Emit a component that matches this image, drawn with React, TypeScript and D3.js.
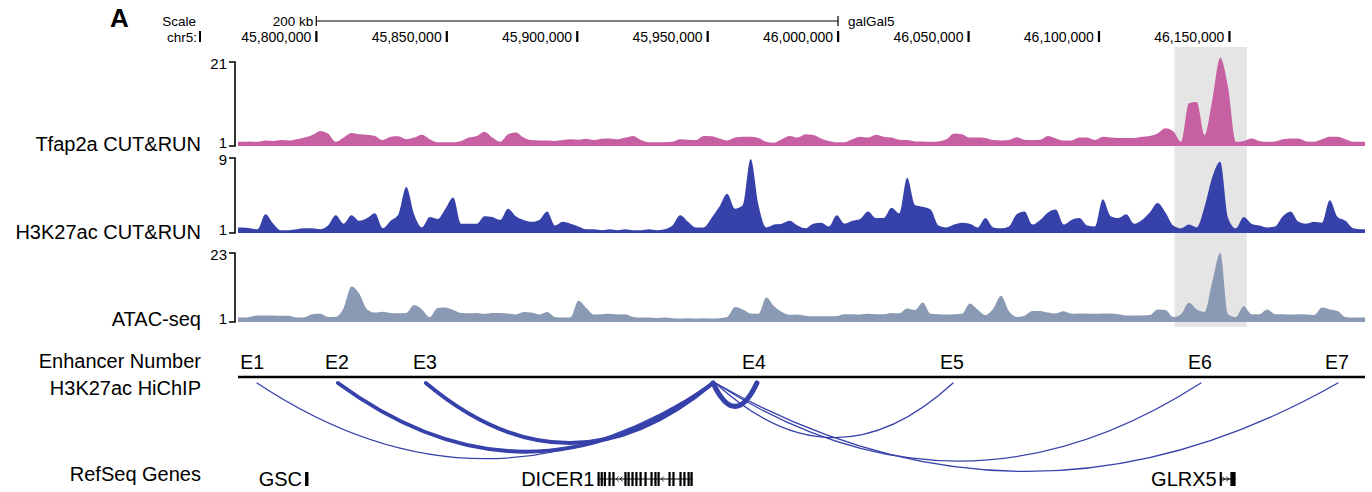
import React from "react";
import * as d3 from "d3";

// genome window shown (galGal5, chr5)
const CHROM_START = 45770000;
const CHROM_END = 46202000;
const BIN_SIZE = 3000;

const TICK_POSITIONS = [45800000, 45850000, 45900000, 45950000, 46000000, 46050000, 46100000, 46150000];
const SCALE_BAR = [45800000, 46000000];
const HIGHLIGHT = [46129000, 46156700];

const TRACK_NAMES = ["Tfap2a CUT&RUN", "H3K27ac CUT&RUN", "ATAC-seq"];
const TRACK_MAX = [21, 9, 23];

// signal per 3 kb bin
const TFAP2A = [
  2.0, 2.1, 2.0, 2.3, 2.2, 2.4, 2.3, 2.6, 3.0, 3.6,
  4.6, 4.0, 2.0, 3.0, 4.1, 3.8, 3.7, 3.4, 2.4, 3.2,
  3.3, 2.6, 3.0, 3.7, 2.6, 1.9, 1.9, 1.9, 2.2, 3.0,
  3.4, 4.4, 3.0, 2.0, 3.8, 4.2, 3.0, 2.4, 2.3, 2.3,
  2.2, 2.4, 2.6, 2.5, 2.7, 2.4, 2.7, 2.8, 2.6, 3.0,
  3.4, 2.4, 1.9, 1.9, 1.9, 2.0, 2.6, 2.5, 2.4, 3.4,
  3.3, 2.8, 2.3, 3.0, 3.2, 3.2, 2.9, 2.0, 1.8, 2.6,
  3.4, 3.0, 3.8, 3.6, 2.8, 2.2, 1.9, 1.9, 2.6, 3.2,
  3.0, 3.7, 3.2, 3.0, 2.5, 2.4, 2.1, 2.1, 2.0, 2.1,
  2.6, 4.0, 3.8, 3.0, 3.0, 2.9, 2.4, 2.3, 2.4, 3.1,
  2.5, 2.4, 2.5, 3.4, 2.8, 2.3, 2.3, 3.0, 3.0, 2.4,
  3.2, 3.0, 2.9, 2.9, 2.9, 3.2, 3.4, 4.0, 5.2, 4.5,
  2.0, 11.2, 11.5, 3.6, 12, 22, 15, 2.0, 2.2, 2.8,
  2.2, 2.0, 2.1, 2.6, 2.8, 2.8, 2.1, 2.0, 2.6, 3.2,
  3.2, 2.6, 2.0, 2.0,
];

const H3K27AC = [
  1.6, 1.5, 1.4, 3.0, 2.0, 1.3, 1.3, 1.4, 1.5, 1.5,
  1.4, 1.8, 2.9, 2.0, 2.9, 2.3, 2.6, 3.1, 1.5, 2.3,
  3.0, 5.9, 3.0, 1.6, 2.7, 2.5, 3.6, 4.8, 2.0, 2.0,
  2.0, 2.8, 2.7, 2.4, 3.6, 2.8, 2.4, 2.2, 2.4, 3.3,
  1.8, 2.2, 2.0, 1.7, 1.4, 1.4, 1.3, 1.4, 1.3, 1.4,
  1.3, 1.3, 1.4, 1.3, 1.4, 1.8, 2.9, 2.2, 1.6, 1.6,
  2.6, 3.8, 5.2, 3.6, 4.0, 8.9, 4.0, 1.6, 1.9, 2.0,
  2.3, 1.8, 1.5, 2.0, 2.1, 1.7, 2.9, 2.0, 2.3, 2.5,
  3.3, 2.6, 2.6, 3.7, 3.1, 6.9, 4.0, 3.8, 3.5, 1.8,
  1.6, 1.9, 2.1, 2.0, 1.6, 2.6, 1.6, 1.5, 1.7, 3.0,
  3.3, 1.9, 2.4, 3.2, 3.5, 1.9, 2.4, 2.6, 1.8, 1.7,
  4.6, 2.8, 2.6, 3.0, 2.0, 2.4, 3.2, 4.2, 3.2, 1.8,
  1.5, 1.9, 1.6, 3.8, 7.0, 8.6, 2.6, 1.5, 2.7, 2.0,
  1.8, 1.6, 1.7, 2.8, 3.3, 2.2, 2.0, 2.2, 2.1, 4.5,
  2.7, 2.3, 1.5, 1.4,
];

const ATAC = [
  2.4, 2.6, 3.1, 3.1, 3.1, 3.0, 3.0, 2.4, 2.5, 3.5,
  3.6, 2.6, 2.7, 5.5, 12.3, 10, 5, 4.0, 4.3, 3.9,
  3.8, 3.9, 6.4, 5, 2.6, 5.5, 5.6, 4.8, 3.9, 3.8,
  3.9, 3.6, 3.9, 3.9, 3.7, 3.4, 4.2, 4.0, 3.4, 4.2,
  2.6, 2.4, 2.5, 7.8, 5.5, 3.4, 3.5, 3.6, 3.4, 3.5,
  2.6, 2.4, 2.4, 2.3, 2.4, 2.2, 2.1, 2.2, 2.1, 2.2,
  2.1, 2.2, 2.6, 5.8, 5.0, 3.7, 3.6, 8.8, 6, 4.2,
  3.3, 3.4, 3.0, 2.8, 2.8, 2.8, 2.9, 3.5, 3.5, 3.4,
  3.6, 3.5, 3.5, 3.9, 3.8, 5.3, 4.8, 7.2, 3.6, 3.5,
  3.4, 3.5, 3.6, 6.9, 5, 3.2, 5.3, 9.4, 4.5, 2.6,
  3.0, 4.5, 4.5, 4.0, 3.7, 4.4, 3.6, 3.7, 3.7, 3.6,
  3.7, 3.7, 3.5, 3.1, 3.1, 3.1, 3.2, 5.0, 4.8, 2.6,
  3.5, 7.1, 5, 4.2, 14, 23, 3.5, 2.6, 6.0, 3.5,
  3.5, 5.0, 3.5, 3.5, 3.4, 3.5, 3.4, 3.2, 5.6, 5.0,
  4.5, 2.6, 2.4, 2.4,
];

const ENHANCER_LABELS = ["E1", "E2", "E3", "E4", "E5", "E6", "E7"];
const ENHANCER_POS = [45775400, 45807900, 45841700, 45967800, 46043700, 46138700, 46191200];

// HiChIP loops: anchors and read support
const LOOP_FROM = [45777300, 45808300, 45842000, 45952100, 45953000, 45953000, 45953000];
const LOOP_TO = [45952100, 45952100, 45952100, 45968900, 46044100, 46139100, 46191600];
const LOOP_COUNT = [1, 3, 3, 4, 1, 1, 1];

const GENE_NAMES = ["GSC", "DICER1", "GLRX5"];
const GENE_STRAND = ["+", "-", "+"];
// exons in kb
const GENE_EXONS = [
  [[45795.7, 45797.0]],
  [
    [45907.8, 45908.6], [45909.0, 45909.8], [45910.2, 45911.0], [45912.0, 45912.8],
    [45913.5, 45914.3], [45918.1, 45918.9], [45919.3, 45920.1], [45920.8, 45921.6],
    [45922.3, 45923.1], [45923.9, 45924.7], [45925.8, 45926.6], [45928.1, 45928.9],
    [45929.6, 45930.4], [45930.8, 45931.6], [45935.0, 45935.8], [45936.5, 45937.3],
    [45939.2, 45940.0], [45940.7, 45941.5], [45942.3, 45943.1], [45943.4, 45944.3],
  ],
  [[46146.3, 46146.6], [46150.4, 46152.4]],
];

const FONT = "'Liberation Sans', Arial, Helvetica, sans-serif";
const COLORS = ["#c760a3", "#3741aa", "#8a9ab4"];
const TRACK_TOP = [62, 158, 253];
const TRACK_BOTTOM = [146, 233, 322];
const LABEL_Y = [151, 239, 326];

export default function App() {
  const x = d3.scaleLinear().domain([CHROM_START, CHROM_END]).range([238, 1365]);
  const fmt = d3.format(",");
  const signals = [TFAP2A, H3K27AC, ATAC];

  const depth = d3.scaleSqrt().domain([0, CHROM_END - CHROM_START]).range([0, 119]);
  const loopWidth = d3.scaleLinear().domain([1, 4]).range([1.3, 5.2]);
  const arcY = 383;

  const geneY = 479;

  return (
    <svg
      width={1372}
      height={492}
      style={{ position: "absolute", left: 0, top: 0, background: "#fff" }}
      fontFamily={FONT}
    >
      <rect width={1372} height={492} fill="#fff" />
      {/* highlight */}
      <rect
        x={x(HIGHLIGHT[0])}
        y={47}
        width={x(HIGHLIGHT[1]) - x(HIGHLIGHT[0])}
        height={280}
        fill="#e5e5e5"
      />

      <text x={110} y={27} fontSize={26} fontWeight="bold">A</text>

      {/* scale bar */}
      <text x={196} y={26} fontSize={13.5} textAnchor="end">Scale</text>
      <text x={x(SCALE_BAR[0]) - 3} y={26} fontSize={13.5} textAnchor="end">200 kb</text>
      <line x1={x(SCALE_BAR[0])} x2={x(SCALE_BAR[1])} y1={21} y2={21} stroke="#000" strokeWidth={1.2} />
      <line x1={x(SCALE_BAR[0])} x2={x(SCALE_BAR[0])} y1={16} y2={26} stroke="#000" strokeWidth={1.2} />
      <line x1={x(SCALE_BAR[1])} x2={x(SCALE_BAR[1])} y1={16} y2={26} stroke="#000" strokeWidth={1.2} />
      <text x={x(SCALE_BAR[1]) + 10} y={26} fontSize={13.5}>galGal5</text>

      {/* position ruler */}
      <text x={197} y={42} fontSize={13.5} textAnchor="end">chr5:</text>
      <rect x={199} y={31} width={2} height={11} fill="#000" />
      {TICK_POSITIONS.map((p) => (
        <g key={p}>
          <rect x={x(p) - 1} y={31} width={2.2} height={11} fill="#000" />
          <text x={x(p) - 5} y={42} fontSize={14} textAnchor="end">{fmt(p)}</text>
        </g>
      ))}

      {/* signal tracks */}
      {signals.map((vals, t) => {
        const top = TRACK_TOP[t];
        const bottom = TRACK_BOTTOM[t];
        const y = d3.scaleLinear().domain([1, TRACK_MAX[t]]).range([bottom, top]);
        const pts: [number, number][] = [
          [CHROM_START, vals[0]],
          ...vals.map((v, i) => [CHROM_START + (i + 0.5) * BIN_SIZE, v] as [number, number]),
          [CHROM_END, vals[vals.length - 1]],
        ];
        const area = d3
          .area<[number, number]>()
          .x((d) => x(d[0]))
          .y0(bottom)
          .y1((d) => y(d[1]))
          .curve(d3.curveMonotoneX);
        return (
          <g key={t}>
            <path d={area(pts) || ""} fill={COLORS[t]} />
            <path
              d={`M229,${top}H235V${bottom}H229`}
              fill="none"
              stroke="#000"
              strokeWidth={1.6}
            />
            <text x={227} y={top + 7} fontSize={15} textAnchor="end">
              {TRACK_MAX[t]}
            </text>
            <text x={227} y={bottom + 2} fontSize={15} textAnchor="end">
              1
            </text>
            <text x={201} y={LABEL_Y[t]} fontSize={20} textAnchor="end">
              {TRACK_NAMES[t]}
            </text>
          </g>
        );
      })}

      {/* enhancers and HiChIP loops */}
      <text x={201} y={368} fontSize={20} textAnchor="end">Enhancer Number</text>
      <text x={201} y={395} fontSize={20} textAnchor="end">H3K27ac HiChIP</text>
      {ENHANCER_LABELS.map((l, i) => (
        <text key={l} x={x(ENHANCER_POS[i])} y={369} fontSize={19.5} textAnchor="middle">
          {l}
        </text>
      ))}
      <line x1={238} x2={1365} y1={377} y2={377} stroke="#000" strokeWidth={2.6} />
      {LOOP_FROM.map((f, i) => {
        const x1 = x(f);
        const x2 = x(LOOP_TO[i]);
        const d = depth(LOOP_TO[i] - f);
        return (
          <path
            key={i}
            d={`M${x1},${arcY}Q${(x1 + x2) / 2},${arcY + 2 * d} ${x2},${arcY}`}
            fill="none"
            stroke="#3741aa"
            strokeWidth={loopWidth(LOOP_COUNT[i])}
            strokeLinecap="round"
          />
        );
      })}

      {/* genes */}
      <text x={201} y={481} fontSize={20} textAnchor="end">RefSeq Genes</text>
      {GENE_NAMES.map((g, gi) => {
        const exons = GENE_EXONS[gi];
        const gs = x(exons[0][0] * 1000);
        const ge = x(exons[exons.length - 1][1] * 1000);
        const chevrons: number[] = [];
        for (let k = 0; k < exons.length - 1; k++) {
          const a = x(exons[k][1] * 1000) + 2;
          const b = x(exons[k + 1][0] * 1000) - 2;
          for (let c = a + 1; c < b; c += 4) chevrons.push(c);
        }
        const dir = GENE_STRAND[gi] === "+" ? 1 : -1;
        return (
          <g key={g}>
            <text x={gs - 3} y={486} fontSize={20} textAnchor="end">{g}</text>
            <line x1={gs} x2={ge} y1={geneY} y2={geneY} stroke="#000" strokeWidth={1.2} />
            {chevrons.map((c, k) => (
              <path
                key={k}
                d={`M${c - 1.2 * dir},${geneY - 2.5}L${c + 1.2 * dir},${geneY}L${c - 1.2 * dir},${geneY + 2.5}`}
                fill="none"
                stroke="#000"
                strokeWidth={0.8}
              />
            ))}
            {exons.map((e, k) => {
              const w = Math.max(2.2, x(e[1] * 1000) - x(e[0] * 1000));
              return (
                <rect key={k} x={x(e[0] * 1000)} y={geneY - 7} width={w} height={14} fill="#000" />
              );
            })}
          </g>
        );
      })}
    </svg>
  );
}
